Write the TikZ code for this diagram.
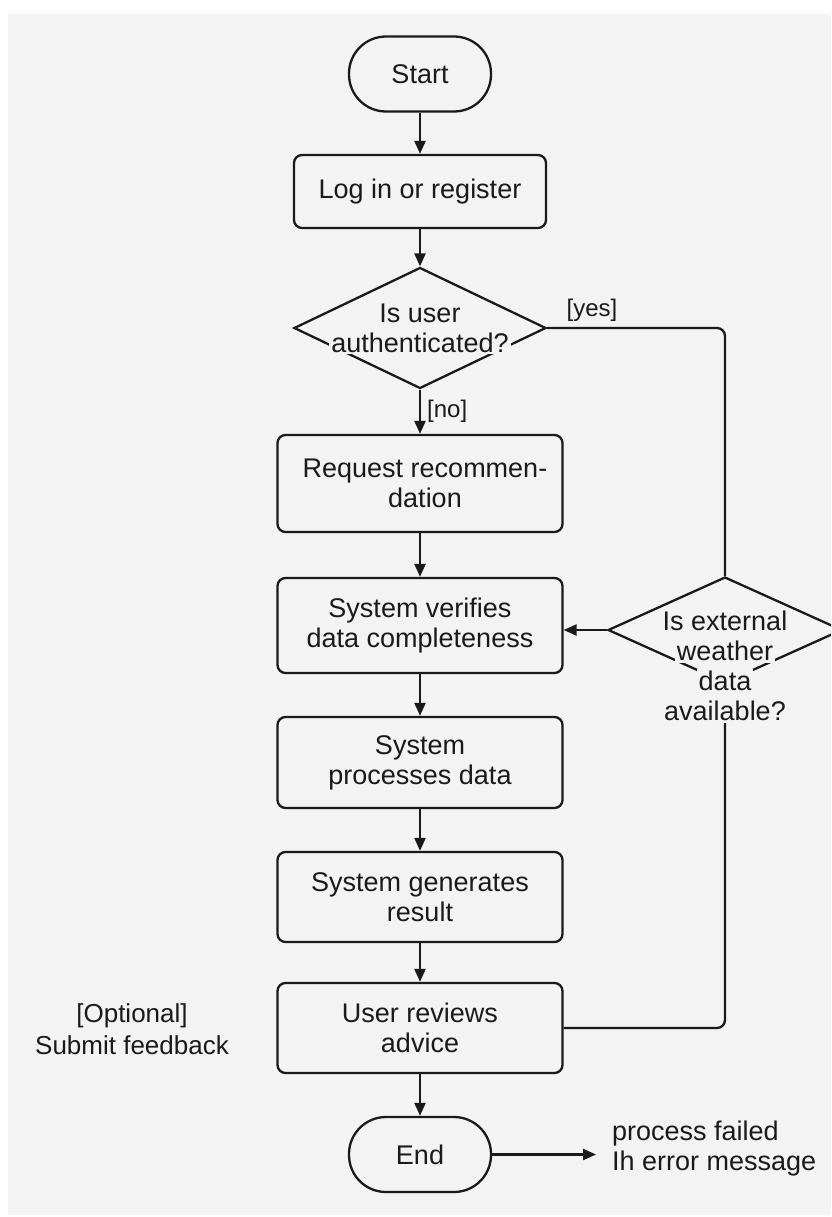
\documentclass[tikz,border=0pt]{standalone}
\usepackage{fontspec}
\setmainfont{Liberation Sans}
\usetikzlibrary{shapes.geometric,arrows.meta}
\definecolor{pagebg}{HTML}{F3F3F3}
\definecolor{ink}{HTML}{1A1A1A}
% text line set on the page colour, so it breaks the outline it crosses
\newcommand\onbg[1]{\colorbox{pagebg}{#1}}

\begin{document}
\setlength\fboxsep{2pt}
\begin{tikzpicture}[x=1pt,y=-1pt,
  font=\fontsize{27}{30}\selectfont,
  box/.style={draw=ink, line width=2.3pt, rounded corners=8pt, minimum width=285pt,
    minimum height=90pt, align=center, inner sep=0pt, text=ink},
  term/.style={draw=ink, line width=2.3pt, rounded corners=37pt, minimum width=142pt,
    minimum height=75pt, inner sep=0pt, text=ink},
  decision/.style={draw=ink, line width=2.3pt, diamond, inner sep=0pt},
  flow/.style={draw=ink, line width=2.3pt, -{Triangle[length=13pt,width=11pt]}},
  link/.style={draw=ink, line width=2.3pt, rounded corners=8pt},
  txt/.style={text=ink, inner sep=0pt, align=center},
  small/.style={font=\fontsize{24}{28}\selectfont},
  note/.style={font=\fontsize{26}{32}\selectfont}]

% page
\clip (0,0) rectangle (831,1217);
\fill[white] (0,0) rectangle (831,1217);
\fill[pagebg] (8,14) rectangle (831,1215);

% main column
\node[term] (start) at (420,74) {Start};
\node[box, minimum width=252pt, minimum height=73pt] (login) at (420,191.5) {Log in or register};
\node[decision, minimum width=252pt, minimum height=121pt] (auth) at (420,328) {};
\node[txt] (authtext) at (420,328) {\onbg{Is user}\\\onbg{authenticated?}};
\node[box, minimum height=97pt] (request) at (420,483.5) {\hspace*{10pt}Request recommen-\\\hspace*{10pt}dation};
\node[box, minimum height=95pt] (verify) at (420,625.5) {System verifies\\data completeness};
\node[box, minimum height=91pt] (process) at (420,762.5) {System\\processes data};
\node[box] (generate) at (420,897) {System generates\\result};
\node[box] (review) at (420,1028) {User reviews\\advice};
\node[term] (end) at (420,1154.5) {End};

% weather check on the right
\node[decision, minimum width=234pt, minimum height=106pt] (weather) at (725,630) {};
\node[txt] (weathertext) at (725,666)
  {\onbg{Is external}\\\onbg{weather}\\\onbg{data}\\\onbg{available?}};

% side texts
\node[txt, small] (yeslbl) at (592,310) {[yes]};
\node[txt, small, anchor=west] (nolbl) at (427,411) {[no]};
\node[txt, note] (optnote) at (132,1029) {[Optional]\\Submit feedback};
\node[txt, anchor=west, align=left] (fail) at (612,1149) {process failed\\Ih error message};

% connectors
\draw[flow] (start) -- (login);
\draw[flow] (login) -- (auth);
\draw[flow] (auth) -- (request);
\draw[flow] (request) -- (verify);
\draw[flow] (verify) -- (process);
\draw[flow] (process) -- (generate);
\draw[flow] (generate) -- (review);
\draw[flow] (review) -- (end);
\draw[link] (auth.east) -| (weather.north);
\draw[flow] (weather.west) -- (weather.west -| verify.east);
\draw[link] (review.east) -| (weathertext.south);
\draw[flow, shorten >=16pt] (end.east) -- (end.east -| fail.west);
\end{tikzpicture}
\end{document}
